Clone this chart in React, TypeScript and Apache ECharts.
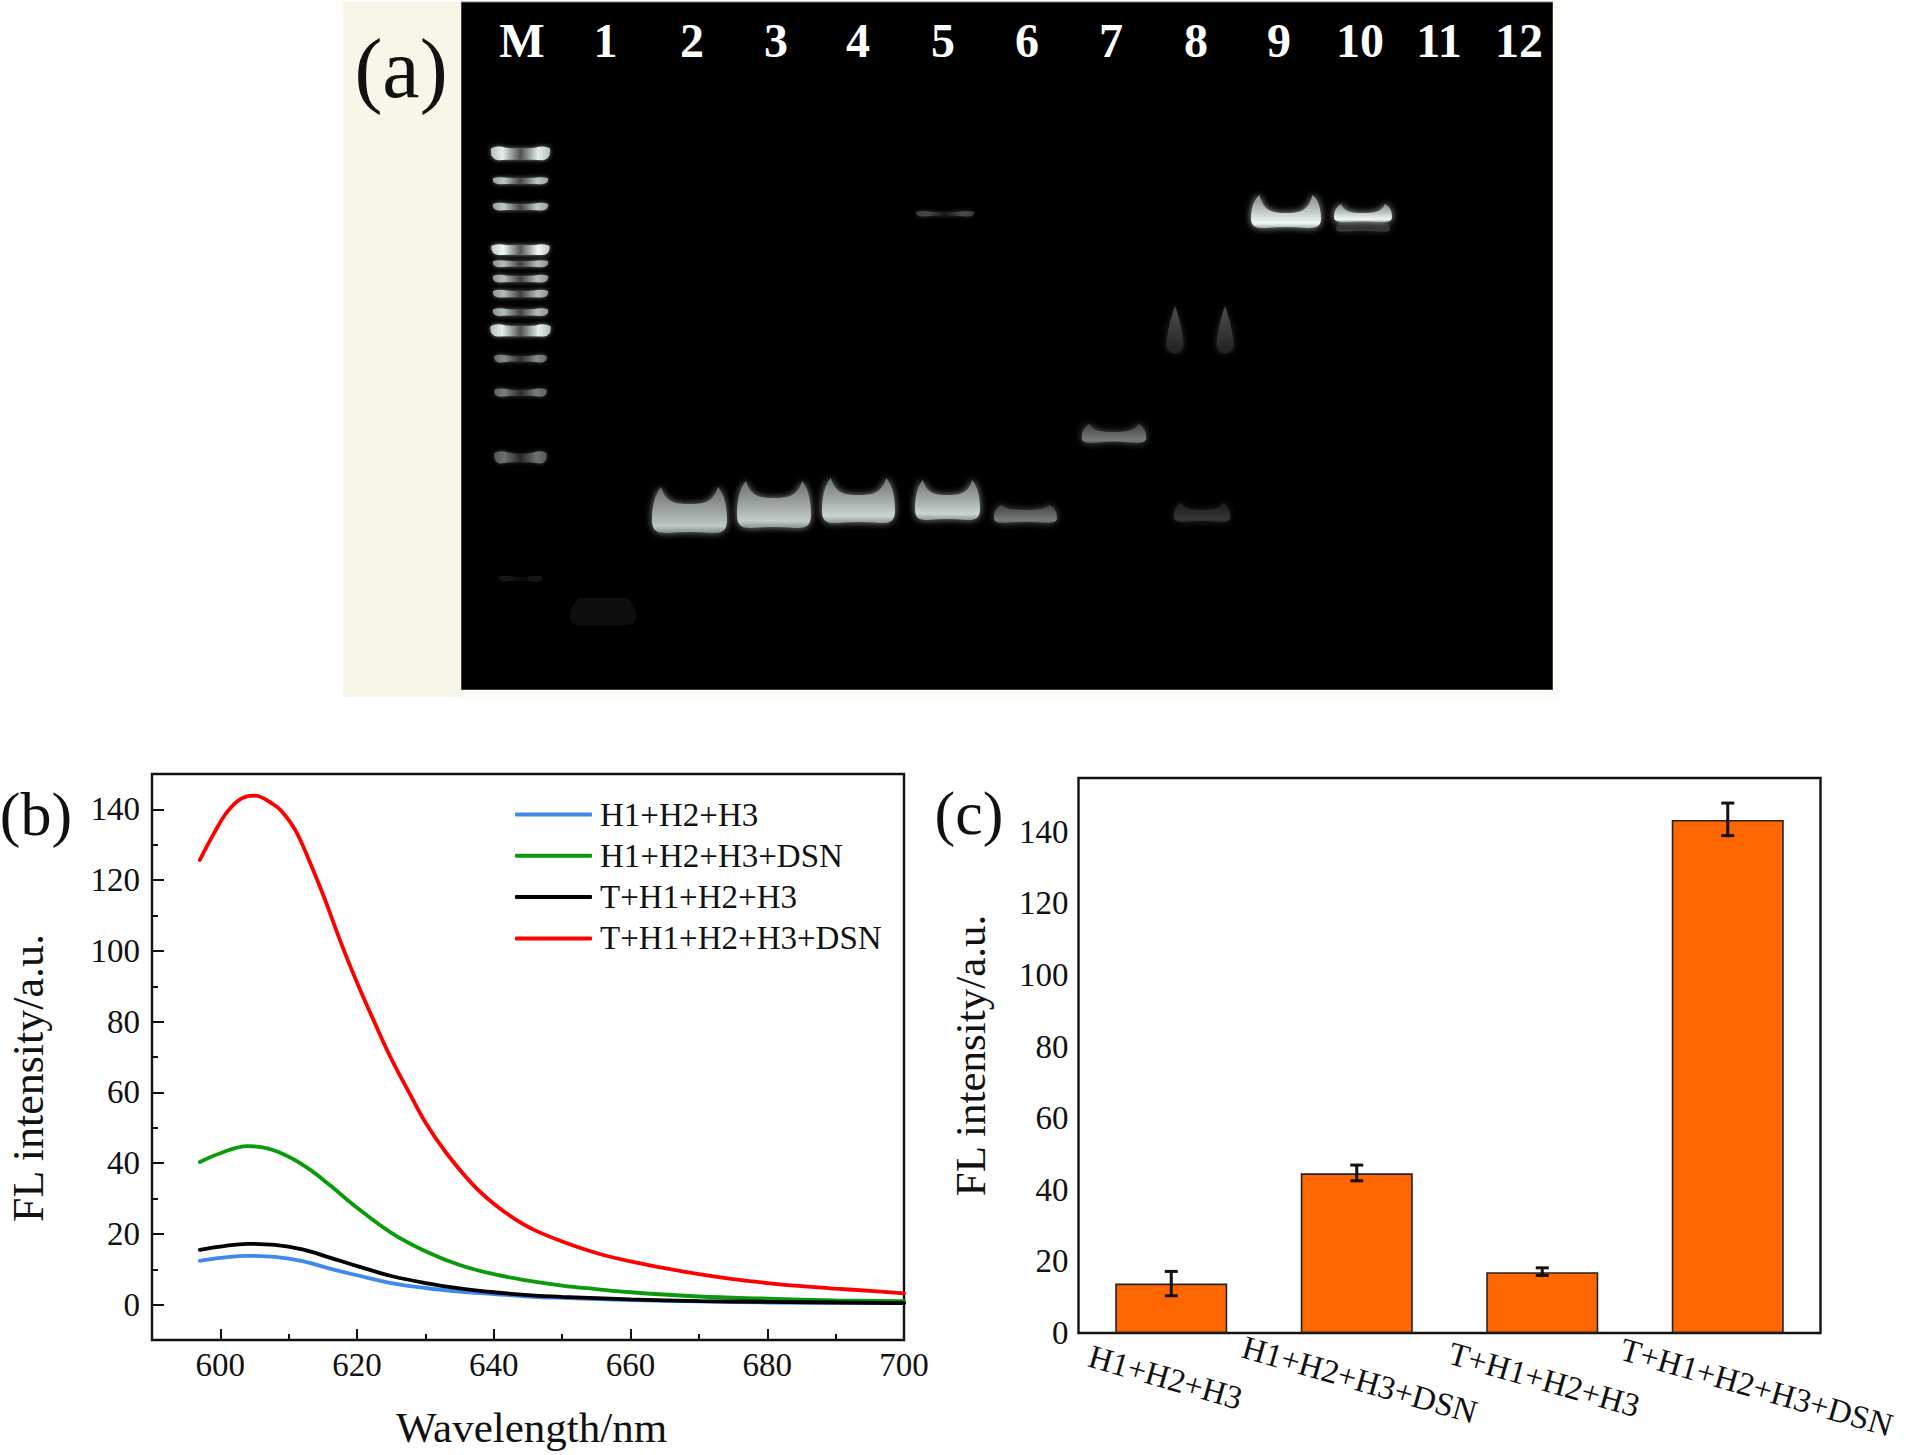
import React, { useEffect, useRef } from 'react';
import * as echarts from 'echarts';

const FONT = '"Liberation Serif", serif';
const INK = '#111';

// (a) gel, positions are read in px from the gel's top left corner
const laneNames = ['M', '1', '2', '3', '4', '5', '6', '7', '8', '9', '10', '11', '12'];
const laneLabelX = [61, 144.5, 231, 315, 397, 482, 566, 650, 735, 818, 899, 978, 1058];
// lane centre, width, band centre, edge thickness, centre thickness, brightness
const ladderBands = [
  [59.5, 59, 152, 18, 9, 0.95],
  [59.5, 55, 179, 9, 5, 0.8],
  [59.5, 55, 205, 10, 4, 0.8],
  [59.5, 58, 248, 14, 9, 1],
  [59.5, 55, 262, 9, 4, 0.75],
  [59.5, 55, 277, 10, 4, 0.75],
  [59.5, 55, 292, 10, 5, 0.75],
  [59.5, 55, 310.5, 10, 4, 0.75],
  [59.5, 60, 329, 16, 9, 0.95],
  [59.5, 52, 357, 10, 2, 0.55],
  [59.5, 52, 391, 11, 2, 0.5],
  [59.5, 52, 456, 16, 4, 0.45],
  [59.5, 44, 577, 8, 1, 0.1],
  [484, 58, 212, 7, 1, 0.3],
];
// lane centre, width, corner top, centre top, centre bottom, corner bottom, brightness
const sampleBands = [
  [142, 66, 596, 596, 623, 623, 0.05],
  [228.5, 75, 485, 502, 529, 531, 0.8],
  [313, 74, 479, 496, 524, 526, 0.82],
  [397.5, 73, 476, 493, 519, 521, 0.85],
  [486.5, 65, 478, 493, 516, 518, 0.85],
  [564.5, 63, 503, 508, 519, 521, 0.5],
  [653, 64.5, 422, 430, 438, 441, 0.5],
  [741, 56, 501, 508, 518, 520, 0.22],
  [825, 70, 193, 211, 224, 226, 1],
  [902, 54, 219, 220, 228, 230, 0.22],
  [902, 58, 202, 211, 219, 220, 1],
];
// lane centre, width, top, bottom, brightness
const smearBands = [
  [714, 14, 304, 351, 0.35],
  [764, 14, 304, 351, 0.35],
];

// (b) spectra
const seriesNames = ['H1+H2+H3', 'H1+H2+H3+DSN', 'T+H1+H2+H3', 'T+H1+H2+H3+DSN'];
const spectrumBlue = [
  [597, 12.4], [600, 13.2], [604, 13.8], [608, 13.5], [612, 12.3], [616, 10.2], [620, 8.3], [625, 6.1],
  [630, 4.7], [635, 3.7], [640, 3], [645, 2.3], [650, 1.9], [660, 1.3], [670, 0.9], [680, 0.6], [700, 0.4],
];
const spectrumGreen = [
  [597, 40.3], [600, 42.8], [604, 44.8], [607, 44.1], [610, 41.8], [613, 38.3], [616, 33.8], [620, 27.4],
  [625, 20.3], [630, 15.1], [635, 11.2], [640, 8.6], [645, 6.8], [650, 5.4], [655, 4.4], [660, 3.5],
  [670, 2.3], [680, 1.7], [690, 1.2], [700, 1],
];
const spectrumBlack = [
  [597, 15.5], [600, 16.4], [604, 17.2], [608, 16.9], [612, 15.6], [616, 13.3], [620, 10.9], [625, 8.1],
  [630, 6.1], [635, 4.6], [640, 3.5], [645, 2.7], [650, 2.2], [660, 1.5], [670, 1], [680, 0.8], [700, 0.4],
];
const spectrumRed = [
  [597, 125.7], [599, 133], [601, 139.3], [603, 143], [605, 143.9], [607.7, 141.5], [609, 139.4], [611, 134],
  [613, 125.5], [615, 116], [617.9, 101], [620, 91], [622.5, 80], [625, 69.5], [627.6, 60],
  [630, 51.5], [633, 43], [636.9, 34], [640, 28.5], [643, 24.3], [645.8, 21.2], [650.2, 17.7],
  [655, 14.6], [660, 12.2], [665, 10.3], [670, 8.6], [675, 7.2], [680, 6.1], [685, 5.2], [690, 4.5],
  [695, 3.9], [700, 3.2],
];
const wavelengthTicks = [600, 620, 640, 660, 680, 700];
const wavelengthMinorTicks = [610, 630, 650, 670, 690];
const spectrumTicks = [0, 20, 40, 60, 80, 100, 120, 140];
const spectrumMinorTicks = [10, 30, 50, 70, 90, 110, 130];

// (c) bars
const barValues = [13.8, 44.6, 17, 143.3];
const barErrors = [
  [0, 10.4, 17.2],
  [1, 42.5, 46.9],
  [2, 16.05, 18.2],
  [3, 138.9, 148],
];
const barMinorTicks = [10, 30, 50, 70, 90, 110, 130, 150];
// left/right padding nudges each rotated label along its own direction
const barLabelPadding = [
  [0, 12, 0, 0],
  [0, 0, 0, 6],
  [0, 0, 0, 4],
  [0, 0, 0, 60],
];

const glow = (level: number, alpha = 1) =>
  `rgba(${Math.round(level * 240)},${Math.round(level * 250)},${Math.round(level * 245)},${alpha})`;

const renderLadder = (_: any, api: any) => {
  const [cx, cy] = api.coord([api.value(0), api.value(2)]);
  const w = api.value(1);
  const e = api.value(3) / 2;
  const c = api.value(4) / 2;
  const level = api.value(5);
  const L = cx - w / 2;
  const R = cx + w / 2;
  const d =
    `M${L} ${cy - e * 0.6} Q${L + w * 0.1} ${cy - e} ${L + w * 0.25} ${cy - e * 0.7} ` +
    `Q${cx} ${cy - c} ${R - w * 0.25} ${cy - e * 0.7} Q${R - w * 0.1} ${cy - e} ${R} ${cy - e * 0.6} ` +
    `Q${R + 1} ${cy + e * 0.6} ${R - w * 0.12} ${cy + e * 0.7} Q${cx} ${cy + c} ${L + w * 0.12} ${cy + e * 0.7} ` +
    `Q${L - 1} ${cy + e * 0.6} ${L} ${cy - e * 0.6} Z`;
  return {
    type: 'path',
    shape: { pathData: d },
    style: {
      fill: new echarts.graphic.LinearGradient(0, 0, 1, 0, [
        { offset: 0, color: glow(level * 0.8) },
        { offset: 0.2, color: glow(level) },
        { offset: 0.5, color: glow(level * 0.35) },
        { offset: 0.8, color: glow(level) },
        { offset: 1, color: glow(level * 0.8) },
      ]),
      shadowBlur: 4,
      shadowColor: glow(level, 0.6),
    },
  };
};

const renderSample = (_: any, api: any) => {
  const [cx, T] = api.coord([api.value(0), api.value(2)]);
  const w = api.value(1);
  const M = api.coord([0, api.value(3)])[1];
  const CB = api.coord([0, api.value(4)])[1];
  const B = api.coord([0, api.value(5)])[1];
  const level = api.value(6);
  const L = cx - w / 2;
  const R = cx + w / 2;
  const h = B - T;
  const d =
    `M${L + w * 0.12} ${T} C${L + w * 0.18} ${M - (M - T) * 0.1} ${L + w * 0.3} ${M} ${cx} ${M} ` +
    `C${R - w * 0.3} ${M} ${R - w * 0.18} ${M - (M - T) * 0.1} ${R - w * 0.12} ${T} ` +
    `C${R - w * 0.02} ${T + h * 0.2} ${R} ${T + h * 0.5} ${R} ${T + h * 0.72} ` +
    `C${R} ${B} ${R - w * 0.1} ${B} ${R - w * 0.2} ${B} Q${cx} ${CB} ${L + w * 0.2} ${B} ` +
    `C${L + w * 0.1} ${B} ${L} ${B} ${L} ${T + h * 0.72} C${L} ${T + h * 0.5} ${L + w * 0.02} ${T + h * 0.2} ${L + w * 0.12} ${T} Z`;
  return {
    type: 'path',
    shape: { pathData: d },
    style: {
      fill: new echarts.graphic.LinearGradient(0, 0, 0, 1, [
        { offset: 0, color: glow(level * 0.55) },
        { offset: 0.5, color: glow(level * 0.8) },
        { offset: 0.85, color: glow(level) },
        { offset: 1, color: glow(level * 0.7) },
      ]),
      shadowBlur: 7,
      shadowColor: glow(level, 0.7),
    },
  };
};

const renderSmear = (_: any, api: any) => {
  const [cx, T] = api.coord([api.value(0), api.value(2)]);
  const w = api.value(1);
  const B = api.coord([0, api.value(3)])[1];
  const level = api.value(4);
  const d =
    `M${cx} ${T} C${cx + w * 0.3} ${T + 12} ${cx + w * 0.6} ${B - 18} ${cx + w * 0.6} ${B - 8} ` +
    `Q${cx + w * 0.5} ${B} ${cx} ${B} Q${cx - w * 0.5} ${B} ${cx - w * 0.6} ${B - 8} ` +
    `C${cx - w * 0.6} ${B - 18} ${cx - w * 0.3} ${T + 12} ${cx} ${T} Z`;
  return {
    type: 'path',
    shape: { pathData: d },
    style: {
      fill: new echarts.graphic.LinearGradient(0, 0, 0, 1, [
        { offset: 0, color: glow(level * 0.9) },
        { offset: 1, color: glow(level * 0.4) },
      ]),
      shadowBlur: 6,
      shadowColor: glow(level, 0.5),
    },
  };
};

const renderLaneLabel = (params: any, api: any) => {
  const [x, y] = api.coord([api.value(0), api.value(1)]);
  return {
    type: 'text',
    x,
    y,
    style: {
      text: laneNames[params.dataIndex],
      fill: '#fff',
      font: `bold 48px ${FONT}`,
      align: 'center',
      verticalAlign: 'middle',
    },
  };
};

const renderErrorBar = (_: any, api: any) => {
  const i = api.value(0);
  const [x, low] = api.coord([i, api.value(1)]);
  const high = api.coord([i, api.value(2)])[1];
  const style = { stroke: INK, lineWidth: 3 };
  return {
    type: 'group',
    children: [
      { type: 'line', shape: { x1: x, y1: low, x2: x, y2: high }, style },
      { type: 'line', shape: { x1: x - 6.5, y1: low, x2: x + 6.5, y2: low }, style },
      { type: 'line', shape: { x1: x - 6.5, y1: high, x2: x + 6.5, y2: high }, style },
    ],
  };
};

const tickLabel = { fontFamily: FONT, fontSize: 33, color: INK };
const axisLine = { show: false, onZero: false };
const tickLine = { color: INK, width: 2 };

const lineSeries = (name: string, data: number[][], color: string) => ({
  name,
  type: 'line',
  xAxisIndex: 1,
  yAxisIndex: 1,
  data,
  smooth: 0.4,
  symbol: 'none',
  lineStyle: { color, width: 3.8, cap: 'round' },
  itemStyle: { color },
});

const gelAxis = { show: false, type: 'value', gridIndex: 0 };

const App: React.FC = () => {
  const chartRef = useRef<HTMLDivElement>(null);

  useEffect(() => {
    if (!chartRef.current) return;
    const chart = echarts.init(chartRef.current, null, { renderer: 'svg' });

    const option = {
      animation: false,
      backgroundColor: '#fff',
      grid: [
        { left: 461, top: 2, width: 1092, height: 688, show: true, backgroundColor: '#000', borderColor: '#6f8080', borderWidth: 1, outerBoundsMode: 'none' },
        { left: 152, top: 774, width: 752, height: 566, show: true, borderColor: INK, borderWidth: 2.4, outerBoundsMode: 'none' },
        { left: 1078.5, top: 778, width: 742, height: 555, show: true, borderColor: INK, borderWidth: 2.4, outerBoundsMode: 'none' },
      ],
      xAxis: [
        { ...gelAxis, min: 0, max: 1092 },
        {
          type: 'value',
          gridIndex: 1,
          position: 'bottom',
          min: 590,
          max: 700,
          axisLine,
          splitLine: { show: false },
          axisTick: { inside: true, length: 11, lineStyle: tickLine, customValues: wavelengthTicks },
          axisLabel: { ...tickLabel, margin: 8, customValues: wavelengthTicks },
          name: 'Wavelength/nm',
          nameLocation: 'middle',
          nameGap: 66,
          nameTextStyle: { fontFamily: FONT, fontSize: 43, color: INK, padding: [0, 0, 0, 7] },
        },
        {
          type: 'value',
          gridIndex: 1,
          position: 'bottom',
          min: 590,
          max: 700,
          axisLine,
          splitLine: { show: false },
          axisLabel: { show: false },
          axisTick: { inside: true, length: 6, lineStyle: tickLine, customValues: wavelengthMinorTicks },
        },
        {
          type: 'category',
          gridIndex: 2,
          position: 'bottom',
          data: seriesNames.map((value, i) => ({
            value,
            textStyle: { align: 'center', verticalAlign: 'middle', padding: barLabelPadding[i] },
          })),
          axisLine,
          axisTick: { show: false },
          axisLabel: { ...tickLabel, fontSize: 33, interval: 0, rotate: -16, margin: 46 },
        },
      ],
      yAxis: [
        { ...gelAxis, min: 0, max: 688, inverse: true },
        {
          type: 'value',
          gridIndex: 1,
          position: 'left',
          min: -10,
          max: 150,
          axisLine,
          splitLine: { show: false },
          axisTick: { inside: true, length: 12, lineStyle: tickLine, customValues: spectrumTicks },
          axisLabel: { ...tickLabel, margin: 12, customValues: spectrumTicks },
          name: 'FL intensity/a.u.',
          nameLocation: 'middle',
          nameGap: 102,
          nameTextStyle: { fontFamily: FONT, fontSize: 44, color: INK, padding: [0, 42, 0, 0] },
        },
        {
          type: 'value',
          gridIndex: 1,
          position: 'left',
          min: -10,
          max: 150,
          axisLine,
          splitLine: { show: false },
          axisLabel: { show: false },
          axisTick: { inside: true, length: 6, lineStyle: tickLine, customValues: spectrumMinorTicks },
        },
        {
          type: 'value',
          gridIndex: 2,
          position: 'left',
          min: 0,
          max: 155,
          axisLine,
          splitLine: { show: false },
          axisTick: { inside: true, length: 12, lineStyle: tickLine, customValues: spectrumTicks },
          axisLabel: { ...tickLabel, margin: 10, customValues: spectrumTicks },
          name: 'FL intensity/a.u.',
          nameLocation: 'middle',
          nameGap: 87,
          nameTextStyle: { fontFamily: FONT, fontSize: 43, color: INK },
        },
        {
          type: 'value',
          gridIndex: 2,
          position: 'left',
          min: 0,
          max: 155,
          axisLine,
          splitLine: { show: false },
          axisLabel: { show: false },
          axisTick: { inside: true, length: 6, lineStyle: tickLine, customValues: barMinorTicks },
        },
      ],
      legend: {
        left: 515,
        top: 798,
        padding: 0,
        orient: 'vertical',
        icon: 'roundRect',
        itemWidth: 77,
        itemHeight: 4,
        itemGap: 8.3,
        selectedMode: false,
        textStyle: { fontFamily: FONT, fontSize: 33, color: INK, padding: [0, 0, 0, 3] },
        data: seriesNames,
      },
      graphic: [
        { type: 'rect', shape: { x: 343, y: 2, width: 118, height: 695 }, style: { fill: '#f7f6e9' } },
        { type: 'rect', shape: { x: 461, y: 690, width: 1099, height: 7 }, style: { fill: '#fcfcf6' } },
        { type: 'rect', shape: { x: 1553, y: 2, width: 7, height: 695 }, style: { fill: '#fcfcf6' } },
        { type: 'text', x: 401, y: 68, style: { text: '(a)', fill: INK, font: `84px ${FONT}`, align: 'center', verticalAlign: 'middle' } },
        { type: 'text', x: 36, y: 814, style: { text: '(b)', fill: INK, font: `62px ${FONT}`, align: 'center', verticalAlign: 'middle' } },
        { type: 'text', x: 969, y: 813, style: { text: '(c)', fill: INK, font: `62px ${FONT}`, align: 'center', verticalAlign: 'middle' } },
      ],
      series: [
        { type: 'custom', xAxisIndex: 0, yAxisIndex: 0, clip: true, renderItem: renderLadder, data: ladderBands, silent: true },
        { type: 'custom', xAxisIndex: 0, yAxisIndex: 0, clip: true, renderItem: renderSample, data: sampleBands, silent: true },
        { type: 'custom', xAxisIndex: 0, yAxisIndex: 0, clip: true, renderItem: renderSmear, data: smearBands, silent: true },
        {
          type: 'custom',
          xAxisIndex: 0,
          yAxisIndex: 0,
          renderItem: renderLaneLabel,
          data: laneLabelX.map((x) => [x, 38]),
          silent: true,
        },
        lineSeries(seriesNames[0], spectrumBlue, '#4088ee'),
        lineSeries(seriesNames[1], spectrumGreen, '#0a9a0a'),
        lineSeries(seriesNames[2], spectrumBlack, '#000000'),
        lineSeries(seriesNames[3], spectrumRed, '#ff0000'),
        {
          type: 'bar',
          xAxisIndex: 3,
          yAxisIndex: 3,
          data: barValues,
          barWidth: '60.4%',
          itemStyle: { color: '#ff6600', borderColor: '#222', borderWidth: 1.6 },
        },
        {
          type: 'custom',
          xAxisIndex: 3,
          yAxisIndex: 3,
          renderItem: renderErrorBar,
          data: barErrors,
          z: 5,
        },
      ],
    };

    chart.setOption(option as any);

    return () => {
      chart.dispose();
    };
  }, []);

  return <div ref={chartRef} style={{ position: 'absolute', left: 0, top: 0, width: 1906, height: 1455 }} />;
};

export default App;
